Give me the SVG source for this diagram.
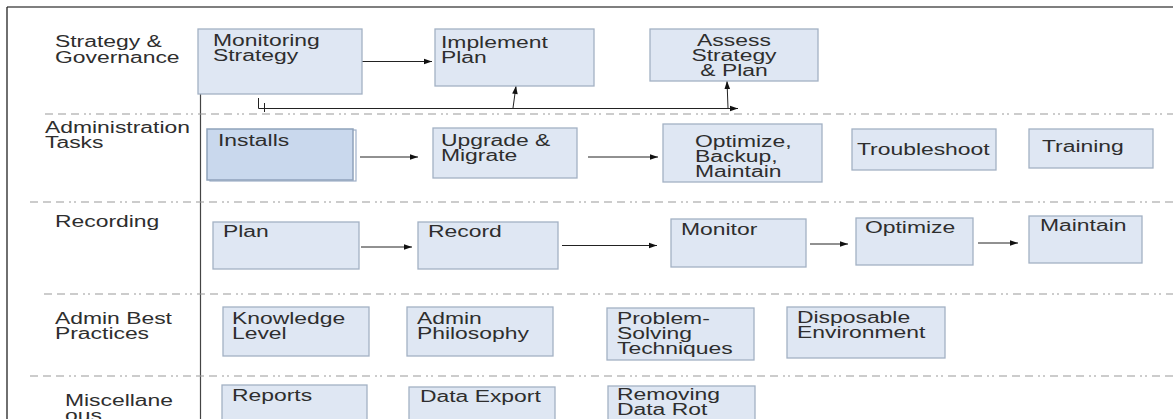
<svg xmlns="http://www.w3.org/2000/svg" width="1173" height="419" viewBox="0 0 1173 419">
<style>
  .bx{fill:#dfe7f3;stroke:#a3b1c4;stroke-width:1.3}
  .bx2{fill:#c9d8ed;stroke:#8fa2bb;stroke-width:1.5}
  text{font-family:"Liberation Sans",Arial,sans-serif;font-size:16px;fill:#2e2e2e;transform-box:fill-box;transform-origin:0% 50%;transform:scaleX(1.43)}
  text.c{transform-origin:50% 50%}
  .dash{stroke:#9a9a9a;stroke-width:1.2;stroke-dasharray:8 5 8 5 8 5 2 3 2 5;fill:none}
  .con{stroke:#222;stroke-width:1;fill:none}
</style>
<defs>
  <marker id="ah" viewBox="0 0 10 10" refX="10" refY="5" markerWidth="14" markerHeight="8" markerUnits="userSpaceOnUse" orient="auto">
    <path d="M0,1.5 L10,5 L0,8.5 Z" fill="#111"/>
  </marker>
</defs>
<rect width="1173" height="419" fill="#ffffff"/>
<g id="frame">
  <line x1="7" y1="7" x2="1173" y2="7" stroke="#555" stroke-width="1.3"/>
  <line x1="7" y1="7" x2="7" y2="419" stroke="#222" stroke-width="1.3"/>
  <line x1="200.5" y1="94" x2="200.5" y2="419" stroke="#444" stroke-width="1.2"/>
  <line class="dash" x1="45" y1="114" x2="1173" y2="114"/>
  <line class="dash" x1="30" y1="202" x2="1173" y2="202"/>
  <line class="dash" x1="44" y1="294" x2="1173" y2="294"/>
  <line class="dash" x1="30" y1="376" x2="1173" y2="376"/>
</g>
<g id="lanes">
  <text x="55" y="47">Strategy &amp;<tspan x="55" dy="16">Governance</tspan></text>
  <text x="45" y="133">Administration<tspan x="45" dy="15">Tasks</tspan></text>
  <text x="55" y="227">Recording</text>
  <text x="55" y="324">Admin Best<tspan x="55" dy="15">Practices</tspan></text>
  <text x="65" y="406">Miscellane<tspan x="65" dy="15">ous</tspan></text>
</g>
<g id="connectors">
  <line class="con" x1="362" y1="61.5" x2="432" y2="61.5" marker-end="url(#ah)"/>
  <path class="con" d="M258.5,98 V108.5 H738" marker-end="url(#ah)"/>
  <line class="con" x1="264.5" y1="103" x2="264.5" y2="112"/>
  <line class="con" x1="513" y1="108" x2="516" y2="86" marker-end="url(#ah)"/>
  <line class="con" x1="728" y1="108" x2="727" y2="81" marker-end="url(#ah)"/>
  <line class="con" x1="360" y1="157" x2="418" y2="157" marker-end="url(#ah)"/>
  <line class="con" x1="588" y1="157" x2="658" y2="157" marker-end="url(#ah)"/>
  <line class="con" x1="361" y1="247" x2="412" y2="247" marker-end="url(#ah)"/>
  <line class="con" x1="562" y1="245.5" x2="657" y2="245.5" marker-end="url(#ah)"/>
  <line class="con" x1="810" y1="244" x2="848" y2="244" marker-end="url(#ah)"/>
  <line class="con" x1="978" y1="243" x2="1018" y2="243" marker-end="url(#ah)"/>
</g>
<g id="monitoring-strategy">
  <rect class="bx" x="198" y="29" width="164" height="65"/>
  <text x="213" y="46">Monitoring<tspan x="213" dy="15">Strategy</tspan></text>
</g>
<g id="implement-plan">
  <rect class="bx" x="435" y="29" width="159" height="57"/>
  <text x="441" y="48">Implement<tspan x="441" dy="15">Plan</tspan></text>
</g>
<g id="assess-strategy">
  <rect class="bx" x="650" y="29" width="168" height="52"/>
  <text class="c" x="734" y="46" text-anchor="middle">Assess<tspan x="734" dy="15">Strategy</tspan><tspan x="734" dy="15">&amp; Plan</tspan></text>
</g>
<g id="installs">
  <rect x="210" y="130" width="146" height="51" fill="none" stroke="#9fb0c8" stroke-width="1.2"/>
  <rect class="bx2" x="207" y="129" width="146" height="51"/>
  <text x="218" y="146">Installs</text>
</g>
<g id="upgrade-migrate">
  <rect class="bx" x="433" y="128" width="144" height="50"/>
  <text x="441" y="146">Upgrade &amp;<tspan x="441" dy="15">Migrate</tspan></text>
</g>
<g id="optimize-backup">
  <rect class="bx" x="663" y="124" width="159" height="58"/>
  <text x="695" y="147">Optimize,<tspan x="695" dy="15">Backup,</tspan><tspan x="695" dy="15">Maintain</tspan></text>
</g>
<g id="troubleshoot">
  <rect class="bx" x="852" y="129" width="144" height="41"/>
  <text x="857" y="155">Troubleshoot</text>
</g>
<g id="training">
  <rect class="bx" x="1029" y="129" width="124" height="39"/>
  <text x="1042" y="152">Training</text>
</g>
<g id="plan">
  <rect class="bx" x="213" y="222" width="146" height="47"/>
  <text x="223" y="237">Plan</text>
</g>
<g id="record">
  <rect class="bx" x="418" y="222" width="140" height="47"/>
  <text x="428" y="237">Record</text>
</g>
<g id="monitor">
  <rect class="bx" x="671" y="219" width="135" height="48"/>
  <text x="681" y="235">Monitor</text>
</g>
<g id="optimize">
  <rect class="bx" x="856" y="218" width="117" height="47"/>
  <text x="865" y="233">Optimize</text>
</g>
<g id="maintain">
  <rect class="bx" x="1029" y="216" width="113" height="47"/>
  <text x="1040" y="231">Maintain</text>
</g>
<g id="knowledge-level">
  <rect class="bx" x="223" y="307" width="146" height="49"/>
  <text x="232" y="324">Knowledge<tspan x="232" dy="15">Level</tspan></text>
</g>
<g id="admin-philosophy">
  <rect class="bx" x="407" y="307" width="146" height="49"/>
  <text x="417" y="324">Admin<tspan x="417" dy="15">Philosophy</tspan></text>
</g>
<g id="problem-solving">
  <rect class="bx" x="607" y="308" width="147" height="52"/>
  <text x="617" y="324">Problem-<tspan x="617" dy="15">Solving</tspan><tspan x="617" dy="15">Techniques</tspan></text>
</g>
<g id="disposable-environment">
  <rect class="bx" x="787" y="307" width="158" height="51"/>
  <text x="797" y="323">Disposable<tspan x="797" dy="15">Environment</tspan></text>
</g>
<g id="reports">
  <rect class="bx" x="222" y="385" width="145" height="40"/>
  <text x="232" y="401">Reports</text>
</g>
<g id="data-export">
  <rect class="bx" x="409" y="387" width="146" height="40"/>
  <text x="420" y="402">Data Export</text>
</g>
<g id="removing-data-rot">
  <rect class="bx" x="608" y="386" width="147" height="40"/>
  <text x="617" y="400">Removing<tspan x="617" dy="15">Data Rot</tspan></text>
</g>
</svg>
